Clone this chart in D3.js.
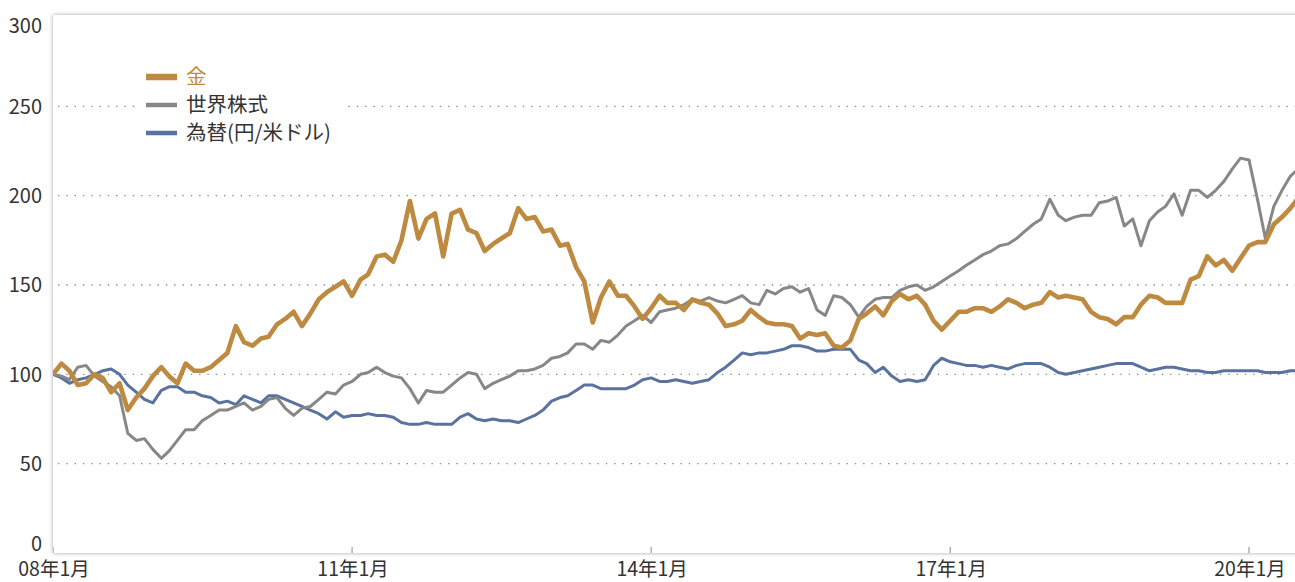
<!DOCTYPE html>
<html><head><meta charset="utf-8">
<script src="https://cdn.jsdelivr.net/npm/d3@7"></script>
<style>
html,body{margin:0;padding:0;background:#fff;overflow:hidden;}
svg{display:block;font-family:"Noto Sans CJK JP","Noto Sans",sans-serif;}
</style></head>
<body>
<svg id="c" width="1295" height="582"></svg>
<script>
// ---- data ----
const startMonth = "2008-01";
const seriesNames = ["金", "世界株式", "為替(円/米ドル)"];
const seriesColors = ["#bd8a40", "#878787", "#5a729e"];
const gold = [
100,106,102,94,95,100,98,90,95,80,
87,92,99,104,99,95,106,102,102,104,
108,112,127,118,116,120,121,128,131,135,
127,134,142,146,149,152,144,153,156,166,
167,163,175,197,176,187,190,166,190,192,
181,179,169,173,176,179,193,187,188,180,
181,172,173,160,152,129,143,152,144,144,
138,131,137,144,140,140,136,142,140,139,
134,127,128,130,136,132,129,128,128,127,
120,123,122,123,116,115,119,131,134,138,
133,141,145,142,144,139,130,125,130,135,
135,137,137,135,138,142,140,137,139,140,
146,143,144,143,142,135,132,131,128,132,
132,139,144,143,140,140,140,153,155,166,
161,164,158,165,172,174,174,184,188,193,199];
const stocks = [
100,99,97,104,105,99,96,93,88,67,
63,64,58,53,57,63,69,69,74,77,
80,80,82,84,80,82,86,87,81,77,
81,82,86,90,89,94,96,100,101,104,
101,99,98,92,84,91,90,90,94,98,
101,100,92,95,97,99,102,102,103,105,
109,110,112,117,117,114,119,118,122,127,
130,133,129,135,136,137,139,142,141,143,
141,140,142,144,140,139,147,145,148,149,
146,148,136,133,144,143,139,132,138,142,
143,143,147,149,150,147,149,152,155,158,
161,164,167,169,172,173,176,180,184,187,
198,189,186,188,189,189,196,197,199,183,
187,172,186,191,194,201,189,203,203,199,
203,208,215,221,220,198,176,194,203,211,215];
const fx = [
100,98,95,97,98,100,102,103,100,94,
90,86,84,91,93,93,90,90,88,87,
84,85,83,88,86,84,88,88,86,84,
82,80,78,75,79,76,77,77,78,77,
77,76,73,72,72,73,72,72,72,76,
78,75,74,75,74,74,73,75,77,80,
85,87,88,91,94,94,92,92,92,92,
94,97,98,96,96,97,96,95,96,97,
101,104,108,112,111,112,112,113,114,116,
116,115,113,113,114,114,114,108,106,101,
104,99,96,97,96,97,105,109,107,106,
105,105,104,105,104,103,105,106,106,106,
104,101,100,101,102,103,104,105,106,106,
106,104,102,103,104,104,103,102,102,101,
101,102,102,102,102,102,101,101,101,102,102];
const yTicks = [0, 50, 100, 150, 200, 250, 300];
const xTickMonths = ["2008-01", "2011-01", "2014-01", "2017-01", "2020-01"];
const xTickLabels = ["08年1月", "11年1月", "14年1月", "17年1月", "20年1月"];

// ---- chart ----
const plot = {left: 53, top: 15, right: 1310, bottom: 553};
const parse = d3.timeParse("%Y-%m");
const t0 = parse(startMonth);
const dates = gold.map((_, i) => d3.timeMonth.offset(t0, i));

const x = d3.scaleTime().domain([parse("2008-01"), parse("2020-01")]).range([53, 1249]);
const y = d3.scaleLinear().domain([0, 300]).range([553, 17]);

const svg = d3.select("#c");
const defs = svg.append("defs");
const f = defs.append("filter").attr("id", "sh").attr("x", "-5%").attr("y", "-5%").attr("width", "110%").attr("height", "110%");
f.append("feDropShadow").attr("dx", 0).attr("dy", 0).attr("stdDeviation", 2.2)
  .attr("flood-color", "#000").attr("flood-opacity", 0.35);
defs.append("clipPath").attr("id", "clip").append("rect")
  .attr("x", plot.left).attr("y", plot.top).attr("width", plot.right - plot.left).attr("height", plot.bottom - plot.top);

svg.append("rect").attr("x", plot.left).attr("y", plot.top)
  .attr("width", plot.right - plot.left).attr("height", plot.bottom - plot.top)
  .attr("fill", "#fff").attr("filter", "url(#sh)");

// grid
const g = svg.append("g").attr("clip-path", "url(#clip)");
g.selectAll("line.grid").data(yTicks.filter(v => v > 0 && v < 300)).join("line")
  .attr("x1", plot.left).attr("x2", plot.right)
  .attr("y1", d => y(d)).attr("y2", d => y(d))
  .attr("stroke", "#8a8a8a").attr("stroke-width", 1.4)
  .attr("stroke-dasharray", "1.4,6.9").attr("stroke-dashoffset", -5);

// x ticks (inside bottom)
g.selectAll("line.xt").data(xTickMonths).join("line")
  .attr("x1", d => x(parse(d))).attr("x2", d => x(parse(d)))
  .attr("y1", plot.bottom - 6).attr("y2", plot.bottom)
  .attr("stroke", "#888").attr("stroke-width", 1);

// lines
const line = vals => d3.line().x((d, i) => x(dates[i])).y(d => y(d))(vals);
const order = [[fx, 2, 3], [stocks, 1, 3], [gold, 0, 4.6]];
order.forEach(([vals, ci, w]) => {
  g.append("path").attr("d", line(vals)).attr("fill", "none")
    .attr("stroke", seriesColors[ci]).attr("stroke-width", w)
    .attr("stroke-linejoin", "round");
});

// legend
const lg = svg.append("g");
lg.append("rect").attr("x", 140).attr("y", 62).attr("width", 208).attr("height", 86).attr("fill", "#fff");
const legRows = [77, 105, 133];
const swH = [6.5, 4.5, 4.5];
seriesNames.forEach((n, i) => {
  lg.append("rect").attr("x", 146).attr("y", legRows[i] - swH[i] / 2).attr("width", 31).attr("height", swH[i])
    .attr("fill", seriesColors[i]);
  lg.append("text").attr("x", 186).attr("y", legRows[i]).attr("dy", "0.36em")
    .attr("font-size", 20.5).attr("fill", i === 0 ? "#c08b3f" : "#333").text(n);
});

// y labels
svg.selectAll("text.yl").data(yTicks).join("text")
  .attr("x", 42).attr("y", d => Math.min(Math.max(y(d), 26), 544)).attr("dy", "0.36em")
  .attr("text-anchor", "end").attr("font-size", 20).attr("fill", "#333").text(d => d);

// x labels
svg.selectAll("text.xl").data(xTickMonths).join("text")
  .attr("x", d => x(parse(d)) + 1).attr("y", 576)
  .attr("text-anchor", "middle").attr("font-size", 19.5).attr("fill", "#333")
  .text((d, i) => xTickLabels[i]);
</script>
</body></html>
